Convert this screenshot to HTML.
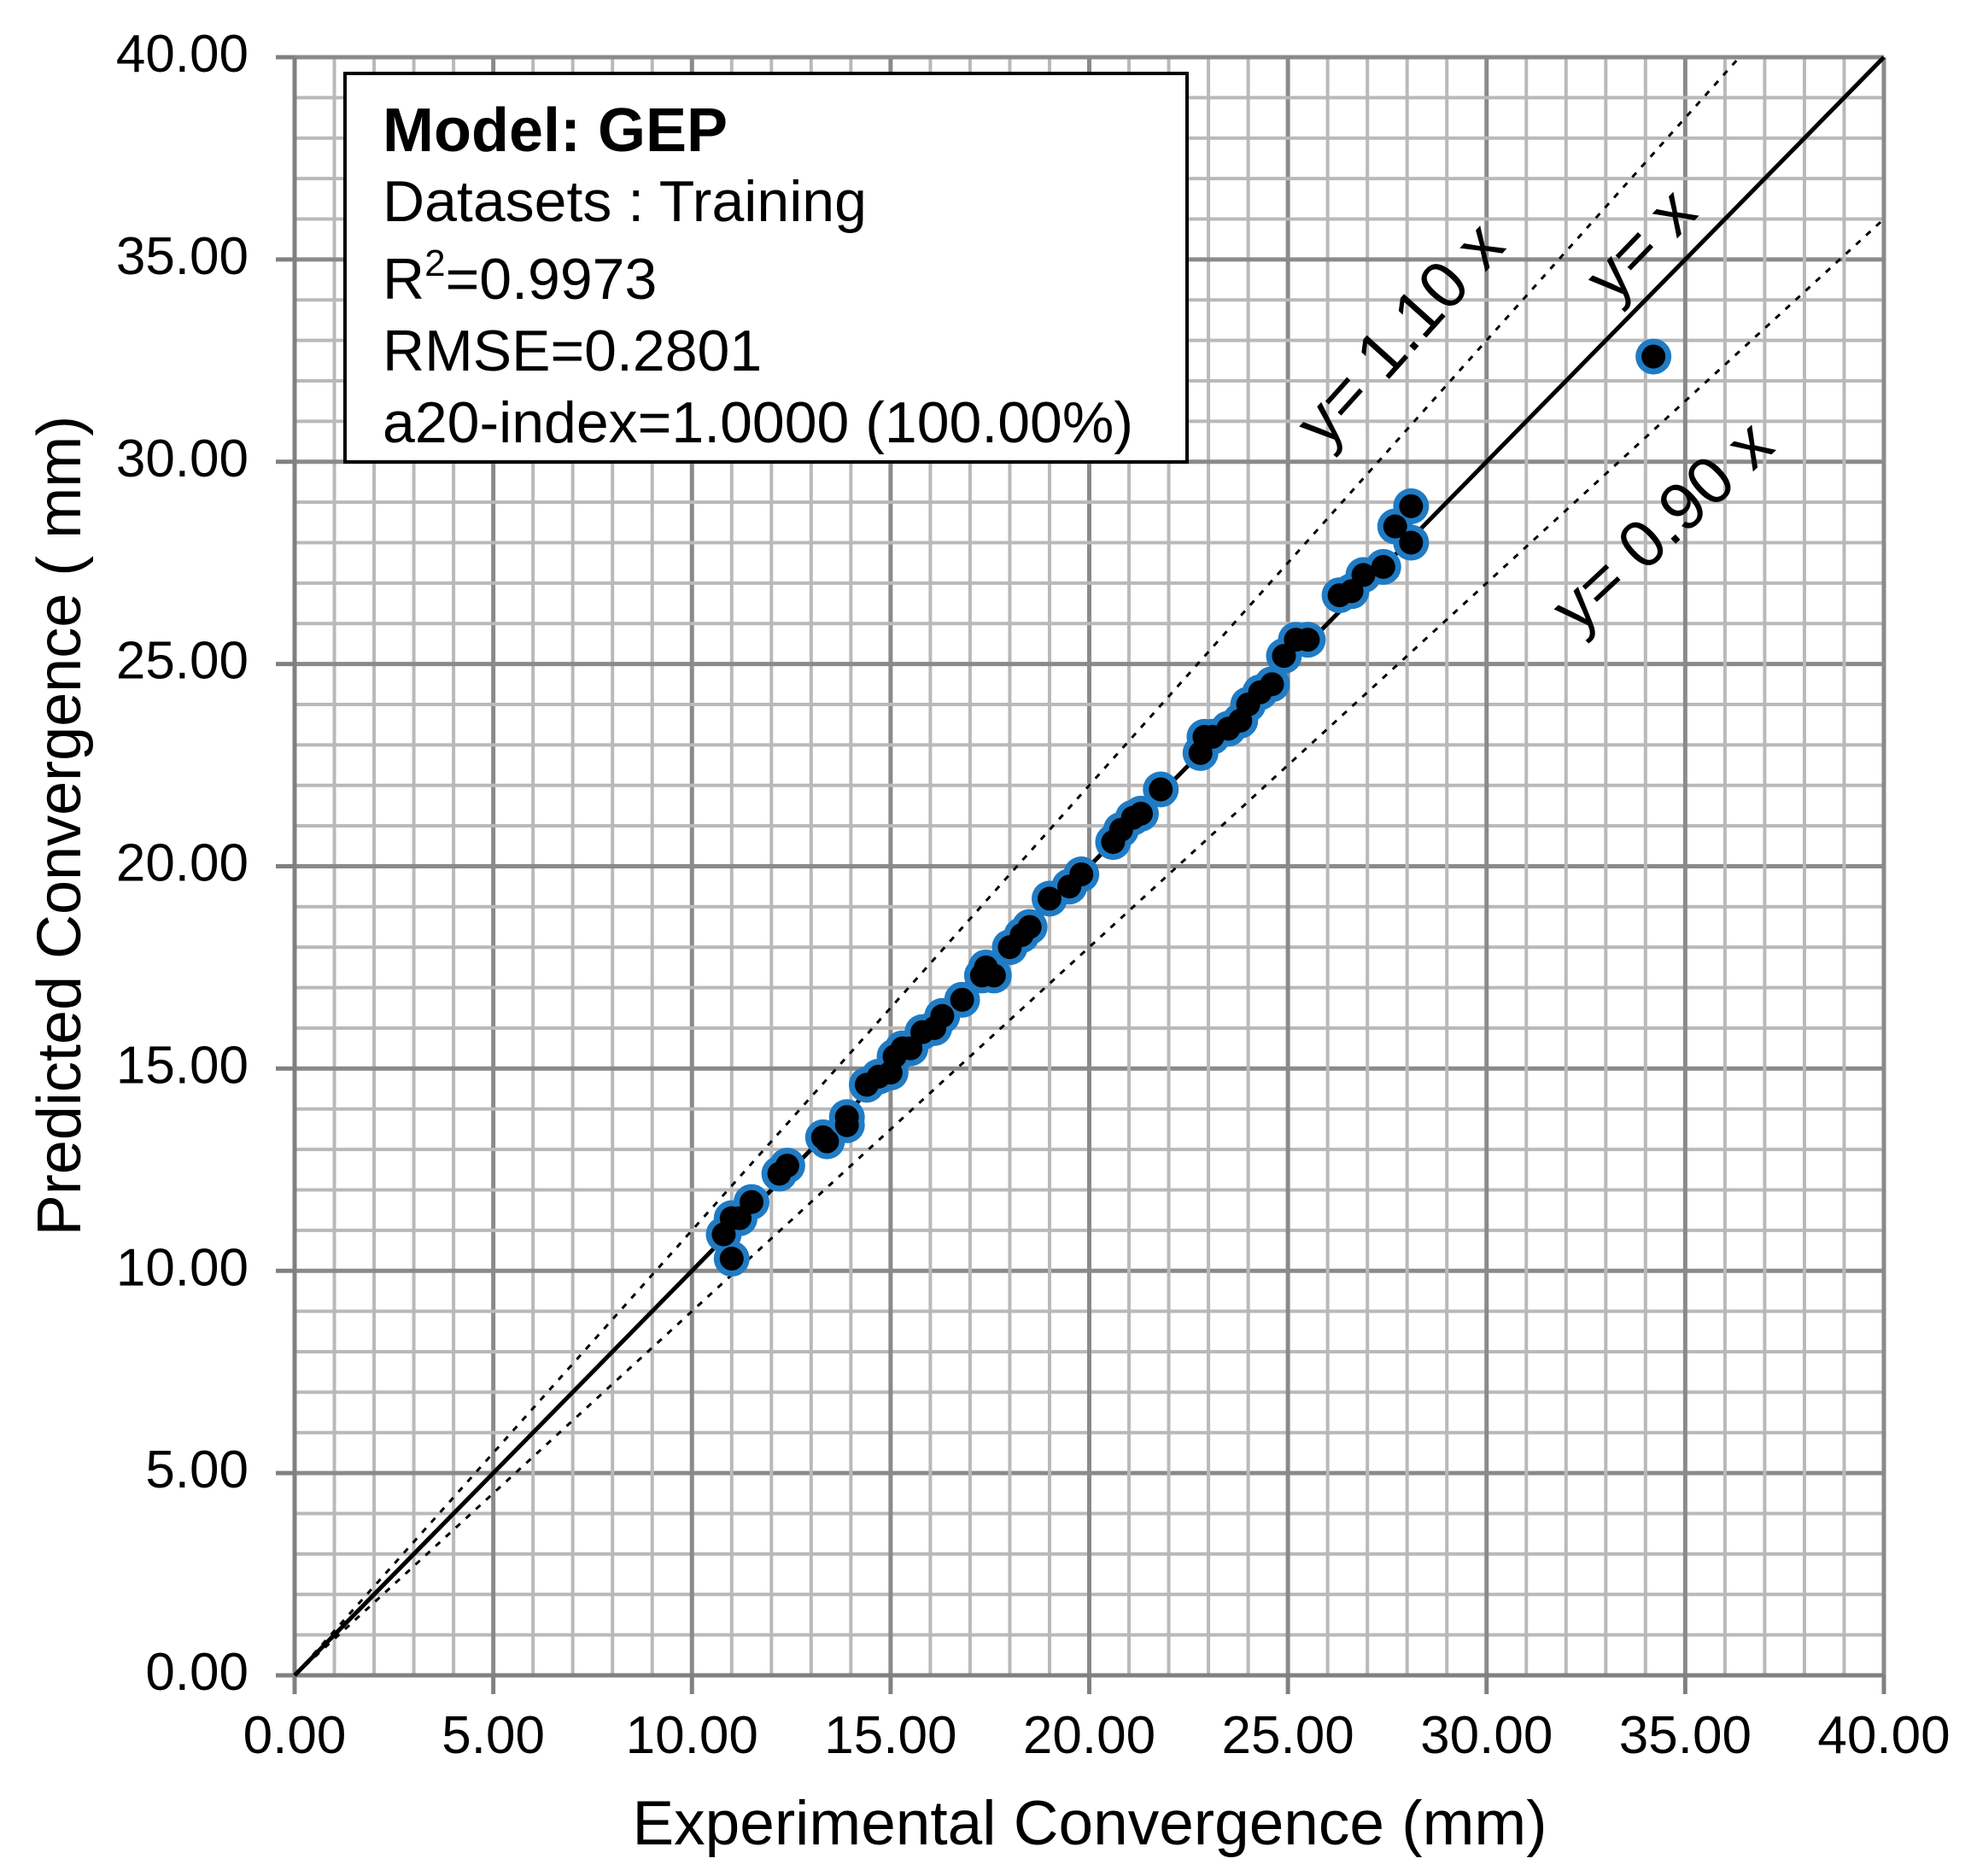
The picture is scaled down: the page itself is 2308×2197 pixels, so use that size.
<!DOCTYPE html>
<html><head><meta charset="utf-8"><style>
html,body{margin:0;padding:0;background:#fff;}
svg{display:block;font-family:"Liberation Sans",sans-serif;}
</style></head><body>
<svg width="2308" height="2197" viewBox="0 0 2308 2197" xmlns="http://www.w3.org/2000/svg">
<rect width="2308" height="2197" fill="#fff"/>
<g id="grid"></g>
<g id="data"></g>
<rect x="404" y="86" width="986" height="455" fill="#fff" stroke="#000" stroke-width="4"/>
<text x="448" y="177" font-size="72" font-weight="bold">Model: GEP</text>
<text x="448" y="259" font-size="68">Datasets : Training</text>
<text x="448" y="350" font-size="68">R<tspan dy="-27" font-size="44">2</tspan><tspan dy="27">=0.9973</tspan></text>
<text x="448" y="434" font-size="68">RMSE=0.2801</text>
<text x="448" y="518" font-size="68">a20-index=1.0000 (100.00%)</text>
<text transform="translate(1643,395) rotate(-48)" text-anchor="middle" font-size="78" dominant-baseline="middle">y= 1.10 x</text>
<text transform="translate(1925,290) rotate(-46)" text-anchor="middle" font-size="78" dominant-baseline="middle">y= x</text>
<text transform="translate(1950,620) rotate(-43)" text-anchor="middle" font-size="78" dominant-baseline="middle">y= 0.90 x</text>
<text x="1276" y="2160" text-anchor="middle" font-size="73">Experimental  Convergence (mm)</text>
<text transform="translate(94,967) rotate(-90)" text-anchor="middle" font-size="72">Predicted Convergence ( mm)</text>
<g id="ticks" font-size="62"></g>
<script>
var X0=345,X1=2206,Y0=1962,Y1=67;
function px(x){return X0+(X1-X0)*x/40}
function py(y){return Y0-(Y0-Y1)*y/40}
var ns="http://www.w3.org/2000/svg";
function el(p,t,a){var e=document.createElementNS(ns,t);for(var k in a)e.setAttribute(k,a[k]);p.appendChild(e);return e}
var g=document.getElementById('grid');
for(var i=0;i<=40;i++){var maj=i%5==0;
 el(g,'line',{x1:px(i),x2:px(i),y1:Y1,y2:Y0,stroke:maj?'#8a8a8a':'#b9b9b9','stroke-width':maj?5:4});
 el(g,'line',{x1:X0,x2:X1,y1:py(i),y2:py(i),stroke:maj?'#8a8a8a':'#b9b9b9','stroke-width':maj?5:4});}
el(g,'line',{x1:X0,x2:X0,y1:Y1,y2:Y0+22,stroke:'#808080','stroke-width':5});
el(g,'line',{x1:X0-22,x2:X1,y1:Y0,y2:Y0,stroke:'#808080','stroke-width':5});
var t=document.getElementById('ticks');
for(var v=0;v<=40;v+=5){
 el(g,'line',{x1:px(v),x2:px(v),y1:Y0,y2:Y0+22,stroke:'#808080','stroke-width':5});
 el(g,'line',{x1:X0-22,x2:X0,y1:py(v),y2:py(v),stroke:'#808080','stroke-width':5});
 var a=el(t,'text',{x:px(v),y:2053,'text-anchor':'middle'});a.textContent=v.toFixed(2);
 var b=el(t,'text',{x:291,y:py(v)+17,'text-anchor':'end'});b.textContent=v.toFixed(2);}
var d=document.getElementById('data');
el(d,'line',{x1:px(0),y1:py(0),x2:px(40),y2:py(40),stroke:'#000','stroke-width':5});
el(d,'line',{x1:px(0),y1:py(0),x2:px(40/1.1),y2:py(40),stroke:'#000','stroke-width':3,'stroke-dasharray':'7,9'});
el(d,'line',{x1:px(0),y1:py(0),x2:px(40),y2:py(36),stroke:'#000','stroke-width':3,'stroke-dasharray':'7,9'});
var pts=[[10.8,10.9],[11.0,11.3],[11.0,10.3],[11.2,11.3],[11.5,11.7],[12.2,12.4],[12.4,12.6],[13.3,13.3],[13.4,13.2],[13.9,13.6],[13.9,13.8],[14.4,14.6],[14.7,14.8],[15.0,14.9],[15.1,15.3],[15.3,15.5],[15.5,15.5],[15.8,15.9],[16.1,16.0],[16.3,16.3],[16.8,16.7],[17.3,17.3],[17.4,17.5],[17.6,17.3],[18.0,18.0],[18.3,18.3],[18.5,18.5],[19.0,19.2],[19.5,19.5],[19.8,19.8],[20.6,20.6],[20.8,20.9],[21.1,21.2],[21.3,21.3],[21.8,21.9],[22.8,22.8],[22.9,23.2],[23.1,23.2],[23.5,23.4],[23.8,23.6],[24.0,24.0],[24.3,24.3],[24.6,24.5],[24.9,25.2],[25.2,25.6],[25.5,25.6],[26.3,26.7],[26.6,26.8],[26.9,27.2],[27.4,27.4],[27.7,28.4],[28.1,28.9],[28.1,28.0],[34.2,32.6]];
pts.forEach(function(p){el(d,'circle',{cx:px(p[0]),cy:py(p[1]),r:21,fill:'#1f7bc4'});});
pts.forEach(function(p){el(d,'circle',{cx:px(p[0]),cy:py(p[1]),r:14,fill:'#000'});});
</script>
</svg>
</body></html>
